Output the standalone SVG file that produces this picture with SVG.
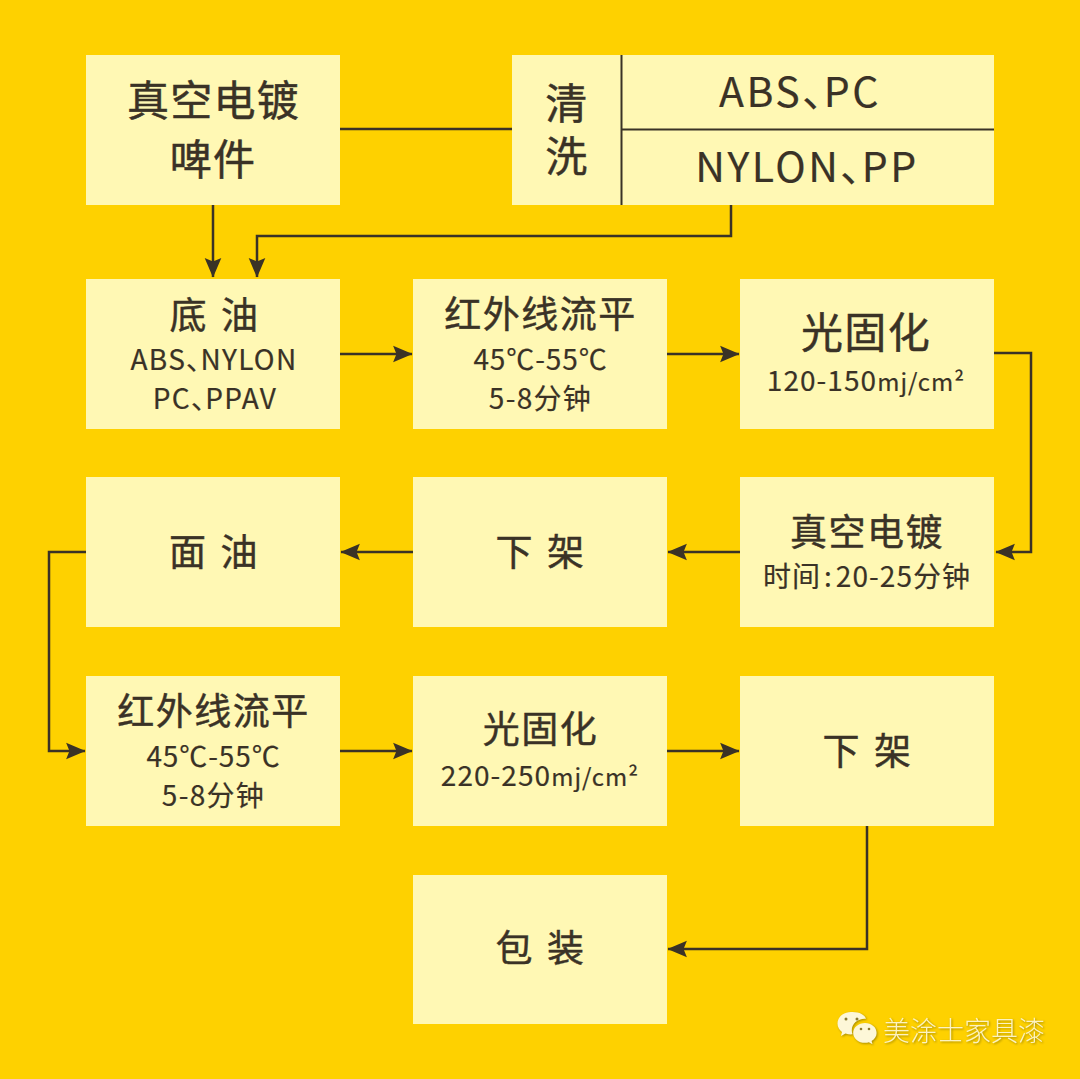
<svg xmlns="http://www.w3.org/2000/svg" width="1080" height="1079" viewBox="0 0 1080 1079">
<style>
.b{fill:#fff8b4}
text{font-family:"Noto Sans CJK SC","Noto Sans",sans-serif;fill:#3a3226;text-anchor:middle;stroke:#3a3226}
.xl{font-size:42px;font-weight:400;letter-spacing:1.300px;stroke-width:.5px}
.l{font-size:37px;font-weight:400;letter-spacing:1.500px;stroke-width:.45px}
.m{font-size:28px;font-weight:400;letter-spacing:.9px;stroke-width:.2px}
.w{letter-spacing:1.300px}
.u{letter-spacing:1.050px}
.s{font-size:24px}
.e{font-size:41px;font-weight:400;letter-spacing:2.500px;stroke-width:.2px}
.c{fill:none;stroke:#3a3226;stroke-width:2.500}
.a{fill:#3a3226}
</style>
<defs>
<marker id="ah" markerUnits="userSpaceOnUse" markerWidth="20" markerHeight="20" refX="17" refY="8" orient="auto" viewBox="0 0 18 16"><path class="a" d="M0 .5L17.500 8L0 15.500L3 8Z"/></marker>
</defs>
<rect width="1080" height="1079" fill="#fed100"/>
<g id="connectors">
<path class="c" d="M340 129H512"/>
<path class="c" d="M213 205V277" marker-end="url(#ah)"/>
<path class="c" d="M731 205V236H257V277" marker-end="url(#ah)"/>
<path class="c" d="M340 354H412" marker-end="url(#ah)"/>
<path class="c" d="M667 354H739" marker-end="url(#ah)"/>
<path class="c" d="M994 353H1031V552H996" marker-end="url(#ah)"/>
<path class="c" d="M740 552H668" marker-end="url(#ah)"/>
<path class="c" d="M413 552H341" marker-end="url(#ah)"/>
<path class="c" d="M86 552H49V751H85" marker-end="url(#ah)"/>
<path class="c" d="M340 751H412" marker-end="url(#ah)"/>
<path class="c" d="M667 751H739" marker-end="url(#ah)"/>
<path class="c" d="M867 826V949H668" marker-end="url(#ah)"/>
</g>
<g id="n-start"><rect class="b" x="86" y="55" width="254" height="150"/><text class="xl" x="213.500" y="116">真空电镀</text><text class="xl" x="213" y="175">啤件</text></g>
<g id="n-clean"><rect class="b" x="512" y="55" width="482" height="150"/>
<path class="c" style="stroke-width:2" d="M621.500 55V205M622 129.500H994"/>
<text class="xl" x="567" y="119">清</text><text class="xl" x="567" y="172">洗</text>
<text class="e" x="800" y="107">ABS、<tspan dx="-22">PC</tspan></text><text class="e" x="807" y="182">NYLON、<tspan dx="-22">PP</tspan></text></g>
<g id="n-primer"><rect class="b" x="86" y="279" width="254" height="150"/><text class="l" x="214.500" y="329" word-spacing="3">底 油</text><text class="m w" x="214" y="370">ABS、<tspan dx="-15">NYLON</tspan></text><text class="m w" x="215" y="409">PC、<tspan dx="-15">PPAV</tspan></text></g>
<g id="n-ir1"><rect class="b" x="413" y="279" width="254" height="150"/><text class="l" x="540.500" y="328">红外线流平</text><text class="m" x="540.500" y="370">45℃-55℃</text><text class="m w" x="540.500" y="409">5-8分钟</text></g>
<g id="n-uv1"><rect class="b" x="740" y="279" width="254" height="150"/><text class="xl" x="866" y="348">光固化</text><text class="m u" x="866" y="391">120-150<tspan class="s">mj/cm²</tspan></text></g>
<g id="n-vac"><rect class="b" x="740" y="477" width="254" height="150"/><text class="l" x="867" y="546">真空电镀</text><text class="m u" x="867" y="587">时间<tspan dx="3">:</tspan><tspan dx="3">20-25分钟</tspan></text></g>
<g id="n-off1"><rect class="b" x="413" y="477" width="254" height="150"/><text class="l" x="540.500" y="566" word-spacing="3">下 架</text></g>
<g id="n-top"><rect class="b" x="86" y="477" width="254" height="150"/><text class="l" x="214" y="566" word-spacing="3">面 油</text></g>
<g id="n-ir2"><rect class="b" x="86" y="676" width="254" height="150"/><text class="l" x="213.500" y="725">红外线流平</text><text class="m" x="213.500" y="767">45℃-55℃</text><text class="m w" x="213.500" y="806">5-8分钟</text></g>
<g id="n-uv2"><rect class="b" x="413" y="676" width="254" height="150"/><text class="l" x="540.500" y="743">光固化</text><text class="m u" x="540" y="786">220-250<tspan class="s">mj/cm²</tspan></text></g>
<g id="n-off2"><rect class="b" x="740" y="676" width="254" height="150"/><text class="l" x="867.500" y="765" word-spacing="3">下 架</text></g>
<g id="n-pack"><rect class="b" x="413" y="875" width="254" height="149"/><text class="l" x="540.500" y="962" word-spacing="3">包 装</text></g>
<g id="watermark" style="filter:drop-shadow(1px 1px 1px #a88c00)">
<path fill="#fdf7d8" d="M851 1012c-7.500 0-13.500 5-13.500 11.500 0 3.500 1.800 6.500 4.500 8.500l-1 4 4.500-2.500c1.800.6 3.600.9 5.500.9.500 0 1 0 1.500-.1-.5-1.400-.7-2.800-.7-4.300 0-6.300 5.700-11.300 12.900-11.300h1.300c-1.600-4-6.600-7-15-6.600z"/>
<path fill="#fdf7d8" d="M865 1023c-6.500 0-11.800 4.400-11.800 9.900s5.300 9.900 11.800 9.900c1.400 0 2.700-.2 3.900-.6l3.600 2.100-.9-3.300c3-1.800 5-4.800 5-8.100 0-5.500-5-9.900-11.600-9.900z"/>
<g fill="#8a7a30"><circle cx="846" cy="1019" r="1.500"/><circle cx="857" cy="1019" r="1.500"/><circle cx="861" cy="1029" r="1.300"/><circle cx="869" cy="1029" r="1.300"/></g>
<text x="964" y="1041" style="font-size:27px;font-weight:300;fill:#fdf3c0;stroke:none">美涂士家具漆</text>
</g>
</svg>
